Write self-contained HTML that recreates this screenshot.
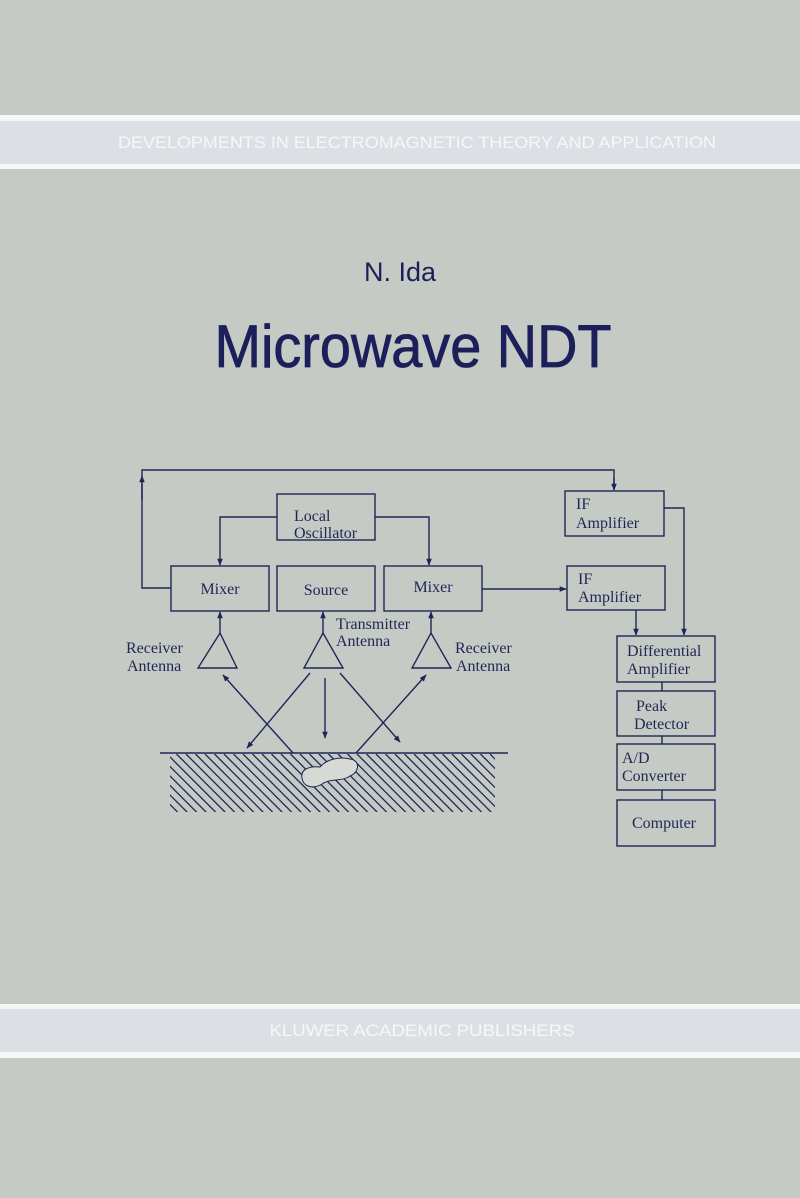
<!DOCTYPE html>
<html><head><meta charset="utf-8"><style>
html,body{margin:0;padding:0;background:#c6cac4;}
svg{display:block}
</style></head><body>
<svg width="800" height="1198" viewBox="0 0 800 1198" xmlns="http://www.w3.org/2000/svg">
<defs>
<marker id="a" viewBox="0 0 10 10" refX="9" refY="5" markerWidth="7" markerHeight="5" orient="auto"><path d="M0,1 L10,5 L0,9 z" fill="#1f2656"/></marker>
<clipPath id="hc"><rect x="170" y="754" width="325" height="58"/></clipPath>
</defs>
<rect width="800" height="1198" fill="#c6cac4"/>
<rect x="0" y="115" width="800" height="6" fill="#f4f6f7"/>
<rect x="0" y="121" width="800" height="43" fill="#dcdfe4"/>
<rect x="0" y="164" width="800" height="5" fill="#f4f6f7"/>
<text x="417" y="148" text-anchor="middle" font-family="Liberation Sans, sans-serif" font-size="17" fill="#f6f7f9" textLength="598" lengthAdjust="spacingAndGlyphs">DEVELOPMENTS IN ELECTROMAGNETIC THEORY AND APPLICATION</text>
<rect x="0" y="1004" width="800" height="5" fill="#f4f6f7"/>
<rect x="0" y="1009" width="800" height="43" fill="#dcdfe4"/>
<rect x="0" y="1052" width="800" height="6" fill="#f4f6f7"/>
<text x="422" y="1036" text-anchor="middle" font-family="Liberation Sans, sans-serif" font-size="17" fill="#f6f7f9" textLength="305" lengthAdjust="spacingAndGlyphs">KLUWER ACADEMIC PUBLISHERS</text>
<text x="400" y="281" text-anchor="middle" font-family="Liberation Sans, sans-serif" font-size="27" fill="#1c1f5a">N. Ida</text>
<text x="413" y="367" text-anchor="middle" font-family="Liberation Sans, sans-serif" font-size="60" fill="#1c1f5a" stroke="#1c1f5a" stroke-width="0.8" textLength="397" lengthAdjust="spacingAndGlyphs">Microwave NDT</text>

<g stroke="#1f2656" stroke-width="1.4" fill="none">
<rect x="277" y="494" width="98" height="46"/>
<rect x="171" y="566" width="98" height="45"/>
<rect x="277" y="566" width="98" height="45"/>
<rect x="384" y="566" width="98" height="45"/>
<rect x="565" y="491" width="99" height="45"/>
<rect x="567" y="566" width="98" height="44"/>
<rect x="617" y="636" width="98" height="46"/>
<rect x="617" y="691" width="98" height="45"/>
<rect x="617" y="744" width="98" height="46"/>
<rect x="617" y="800" width="98" height="46"/>
<path d="M171,588 H142 V470 H614 V490" />
<path d="M142,500 V476" marker-end="url(#a)"/>
<path d="M614,478 V490" marker-end="url(#a)"/>
<path d="M277,517 H220 V565" marker-end="url(#a)"/>
<path d="M375,517 H429 V565" marker-end="url(#a)"/>
<path d="M482,589 H566" marker-end="url(#a)"/>
<path d="M664,508 H684 V635" marker-end="url(#a)"/>
<path d="M636,610 V635" marker-end="url(#a)"/>
<path d="M662,682 V691 M662,736 V744 M662,790 V800"/>
<path d="M220,633 L237,668 H198 Z"/>
<path d="M323,633 L343,668 H304 Z"/>
<path d="M431,633 L451,668 H412 Z"/>
<path d="M220,633 V612" marker-end="url(#a)"/>
<path d="M323,633 V612" marker-end="url(#a)"/>
<path d="M431,633 V612" marker-end="url(#a)"/>
<path d="M293,753 L223,675" marker-end="url(#a)"/>
<path d="M310,673 L247,748" marker-end="url(#a)"/>
<path d="M325,678 V738" marker-end="url(#a)"/>
<path d="M340,673 L400,742" marker-end="url(#a)"/>
<path d="M356,753 L426,675" marker-end="url(#a)"/>
<path d="M160,753 H508"/>
<g clip-path="url(#hc)" stroke-width="1.3">
<path d="M110,754 l60,60 M119.5,754 l60,60 M129,754 l60,60 M138.5,754 l60,60 M148,754 l60,60 M157.5,754 l60,60 M167,754 l60,60 M176.5,754 l60,60 M186,754 l60,60 M195.5,754 l60,60 M205,754 l60,60 M214.5,754 l60,60 M224,754 l60,60 M233.5,754 l60,60 M243,754 l60,60 M252.5,754 l60,60 M262,754 l60,60 M271.5,754 l60,60 M281,754 l60,60 M290.5,754 l60,60 M300,754 l60,60 M309.5,754 l60,60 M319,754 l60,60 M328.5,754 l60,60 M338,754 l60,60 M347.5,754 l60,60 M357,754 l60,60 M366.5,754 l60,60 M376,754 l60,60 M385.5,754 l60,60 M395,754 l60,60 M404.5,754 l60,60 M414,754 l60,60 M423.5,754 l60,60 M433,754 l60,60 M442.5,754 l60,60 M452,754 l60,60 M461.5,754 l60,60 M471,754 l60,60 M480.5,754 l60,60 M490,754 l60,60"/>
</g>
<path d="M302,778 C300,768 312,766 320,767 C326,760 338,756 350,759 C360,760 360,772 350,776 C342,782 330,778 322,784 C312,790 303,786 302,778 Z" fill="#d6d9d4" stroke-width="1"/>
</g>

<g font-family="Liberation Serif, serif" font-size="16" fill="#1f2656">
<text x="294" y="521">Local</text>
<text x="294" y="538">Oscillator</text>
<text x="220" y="594" text-anchor="middle">Mixer</text>
<text x="326" y="595" text-anchor="middle">Source</text>
<text x="433" y="592" text-anchor="middle">Mixer</text>
<text x="126" y="653">Receiver</text>
<text x="127" y="671">Antenna</text>
<text x="336" y="629">Transmitter</text>
<text x="336" y="646">Antenna</text>
<text x="455" y="653">Receiver</text>
<text x="456" y="671">Antenna</text>
<text x="576" y="509">IF</text>
<text x="576" y="528">Amplifier</text>
<text x="578" y="584">IF</text>
<text x="578" y="602">Amplifier</text>
<text x="627" y="656">Differential</text>
<text x="627" y="674">Amplifier</text>
<text x="636" y="711">Peak</text>
<text x="634" y="729">Detector</text>
<text x="622" y="763">A/D</text>
<text x="622" y="781">Converter</text>
<text x="632" y="828">Computer</text>
</g>
</svg>
</body></html>
